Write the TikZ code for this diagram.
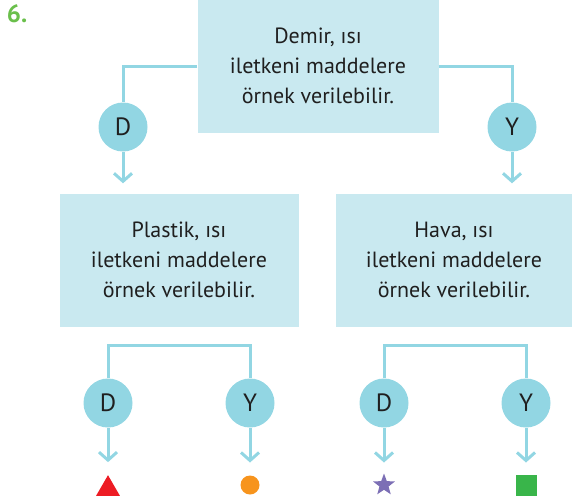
\documentclass[tikz,border=0pt]{standalone}
\usepackage{fontspec}
\setmainfont{PT Sans}
\usetikzlibrary{arrows.meta,shapes.geometric}

\definecolor{kutumavi}{HTML}{C9E9F0}
\definecolor{cizgimavi}{HTML}{92D6E3}
\definecolor{yesil}{HTML}{6ABF4B}

\begin{document}
\begin{tikzpicture}[x=1pt,y=-1pt,
        kutu/.style={fill=kutumavi,minimum width=241pt,minimum height=133pt,inner sep=0pt,
                align=center,text=black!88,font=\fontsize{22}{30}\selectfont},
        secim/.style={circle,fill=cizgimavi,minimum size=49pt,inner sep=0pt,text=black!88,
                font=\fontsize{25}{28}\selectfont},%D / Y circles
        bag/.style={draw=cizgimavi,line width=3pt},
        ok/.style={bag,-{Straight Barb[length=8pt,width=18pt]}},
        sekil/.style={inner sep=0pt,outer sep=0pt}
                ]
\useasboundingbox (0,0) rectangle (572,496);
\node[text=yesil,font=\bfseries\fontsize{25}{25}\selectfont] (no) at (17,14) {6.};
% boxes
\node[kutu] (demir) at (318,66) {Demir, ısı\\iletkeni maddelere\\örnek verilebilir.};
\node[kutu,minimum width=239pt] (plastik) at (179,260) {Plastik, ısı\\iletkeni maddelere\\örnek verilebilir.};
\node[kutu,minimum width=236pt] (hava) at (454,260) {Hava, ısı\\iletkeni maddelere\\örnek verilebilir.};
% answers
\node[secim] (d1) at (123,127) {D};
\node[secim] (y1) at (512,127) {Y};
\node[secim] (d2) at (108,403) {D};
\node[secim] (y2) at (250,403) {Y};
\node[secim] (d3) at (384,403) {D};
\node[secim] (y3) at (526,403) {Y};
% end shapes
\node[sekil,regular polygon,regular polygon sides=3,minimum size=27.7pt,fill={rgb,255:red,237;green,28;blue,36}] (ucgen) at (108,489) {};
\node[sekil,circle,minimum size=19pt,fill={rgb,255:red,247;green,148;blue,29}] (daire) at (250,485) {};
\node[sekil,star,star points=5,star point ratio=2.4,minimum size=23pt,fill={rgb,255:red,124;green,111;blue,181}] (yildiz) at (384,485) {};
\node[sekil,rectangle,minimum size=21pt,fill={rgb,255:red,57;green,181;blue,74}] (kare) at (526,485) {};
\coordinate (kol1) at (179,345);
\coordinate (kol2) at (454,345);
% connectors
\draw[bag] (demir.west) -| (d1.north);
\draw[bag] (demir.east) -| (y1.north);
\draw[ok,shorten >=10pt] (d1.south) -- (plastik.north -| d1);
\draw[ok,shorten >=10pt] (y1.south) -- (hava.north -| y1);
\draw[bag] (d2.north) |- (kol1) -| (y2.north);
\draw[bag] (d3.north) |- (kol2) -| (y3.north);
\draw[ok,shorten >=13pt] (d2.south) -- (ucgen.north);
\draw[ok,shorten >=13pt] (y2.south) -- (daire.north);
\draw[ok,shorten >=11pt] (d3.south) -- (yildiz.north);
\draw[ok,shorten >=12pt] (y3.south) -- (kare.north);
\end{tikzpicture}
\end{document}
